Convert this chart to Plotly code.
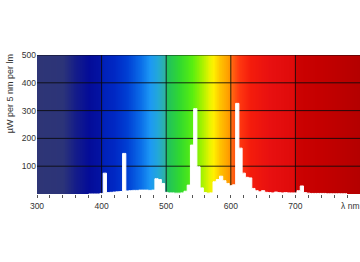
import plotly.graph_objects as go

# Spectral data (5 nm bins), µW per 5 nm per lm
wavelength = [380, 385, 390, 395, 400, 405, 410, 415, 420, 425, 430, 435, 440, 445, 450,
              455, 460, 465, 470, 475, 480, 485, 490, 495, 500, 505, 510, 515, 520, 525,
              530, 535, 540, 545, 550, 555, 560, 565, 570, 575, 580, 585, 590, 595, 600,
              605, 610, 615, 620, 625, 630, 635, 640, 645, 650, 655, 660, 665, 670, 675,
              680, 685, 690, 695, 700, 705, 710, 715, 720, 725, 730, 735, 740, 745, 750,
              755, 760, 765, 770, 775, 780]
power = [0, 0, 0, 0, 2, 75, 5, 6, 7, 8, 9, 146, 11, 12, 13,
         13, 14, 14, 14, 13, 14, 55, 52, 38, 6, 4, 4, 3, 3, 4,
         10, 32, 176, 307, 98, 22, 5, 3, 4, 44, 52, 64, 48, 38, 30,
         33, 326, 165, 75, 60, 58, 20, 12, 8, 12, 6, 5, 4, 7, 5,
         4, 5, 4, 4, 4, 12, 29, 5, 3, 2, 2, 2, 2, 2, 1,
         1, 1, 1, 1, 1, 1]

x_ticks = [300, 400, 500, 600, 700, 785]
x_labels = ["300", "400", "500", "600", "700", "λ nm"]
y_ticks = [100, 200, 300, 400, 500]
x_grid = [400, 500, 600, 700]

# background spectrum colour stops (wavelength, colour)
spec_stops = [(300, "#2e3576"), (340, "#2c3478"), (360, "#141c8a"), (380, "#040c98"),
              (399, "#0414a4"), (401, "#0020b8"), (420, "#0028c4"), (440, "#0040d4"),
              (460, "#0a6ce8"), (475, "#1c98f4"), (487, "#22a8d8"), (499, "#30b49a"),
              (501, "#20c060"), (520, "#30d830"), (540, "#58ee10"), (555, "#a4f200"),
              (566, "#e4f400"), (573, "#fff000"), (583, "#ffc400"), (595, "#ffa000"),
              (599, "#ff9000"), (601, "#ff6a10"), (612, "#ff3a10"), (630, "#f41c0c"),
              (660, "#e81010"), (699, "#de0a0a"), (701, "#cc0202"), (740, "#c40000"),
              (800, "#b40000")]

xmin, xmax = 300, 800
bg_x = list(range(xmin, xmax + 1))
colorscale = [[(w - xmin) / (xmax - xmin), c] for w, c in spec_stops]

fig = go.Figure()
fig.add_trace(go.Heatmap(
    x=bg_x, y=[0, 500], z=[bg_x, bg_x],
    colorscale=colorscale, zmin=xmin, zmax=xmax,
    showscale=False, hoverinfo="skip", zsmooth="best"))

grid_col = "rgba(10,10,10,0.85)"
for gx in x_grid:
    fig.add_trace(go.Scatter(x=[gx, gx], y=[0, y_ticks[-1]], mode="lines",
                             line=dict(color=grid_col, width=1), hoverinfo="skip",
                             showlegend=False))
for gy in y_ticks:
    fig.add_trace(go.Scatter(x=[xmin, xmax], y=[gy, gy], mode="lines",
                             line=dict(color=grid_col, width=1), hoverinfo="skip",
                             showlegend=False))

fig.add_trace(go.Scatter(x=wavelength, y=power, mode="lines", line_shape="hvh",
                         fill="tozeroy", fillcolor="white",
                         line=dict(color="white", width=1), showlegend=False))

font_fam = "Liberation Sans, Arial, sans-serif"
fig.update_layout(
    width=360, height=262,
    margin=dict(l=37, r=0, t=55, b=68),
    paper_bgcolor="white", plot_bgcolor="white",
    showlegend=False,
    font=dict(family=font_fam, size=8.5, color="#333333"),
    xaxis=dict(range=[xmin, xmax], tickvals=x_ticks, ticktext=x_labels,
               showgrid=False, zeroline=False, ticks="", ticklabelstandoff=5,
               minor=dict(ticks="outside", dtick=20, tick0=300, ticklen=3,
                          tickcolor="#555555", showgrid=False),
               tickfont=dict(size=8.5, color="#333333")),
    yaxis=dict(range=[0, 500], tickvals=y_ticks, showgrid=False, zeroline=False,
               ticks="", tickfont=dict(size=8.5, color="#333333")),
    annotations=[dict(text="µW per 5 nm per lm", textangle=-90, xref="paper", yref="paper",
                      x=-0.085, y=1.02, xanchor="center", yanchor="top", showarrow=False,
                      font=dict(size=9, color="#333333", family=font_fam))],
)

fig.write_html("out.html")
